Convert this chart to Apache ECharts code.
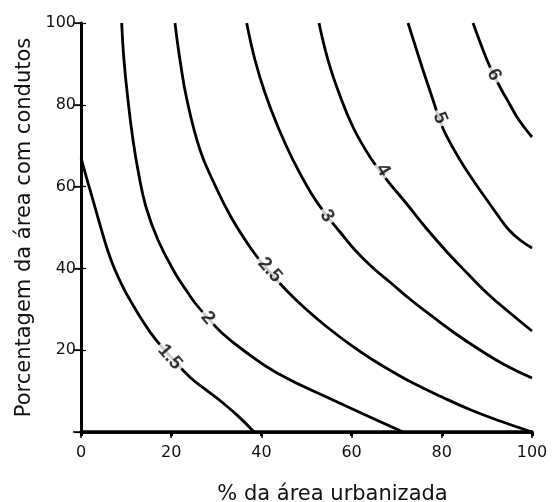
<!DOCTYPE html>
<html>
<head>
<meta charset="utf-8">
<script src="https://cdn.jsdelivr.net/npm/echarts@6/dist/echarts.min.js"></script>
<style>html,body{margin:0;padding:0;background:#fff}#c{width:556px;height:502px}</style>
</head>
<body>
<div id="c"></div>
<script>
// ---- data ----
const xName = '% da área urbanizada';
const yName = 'Porcentagem da área com condutos';
const xMin = 0, xMax = 100, xStep = 20;
const yMin = 0, yMax = 100, yStep = 20;

const contourLevels = ['1.5', '2', '2.5', '3', '4', '5', '6'];
const curve15 = [[0,67.0],[1.55,60.9],[2.66,56.7],[4.1,51.1],[5.88,44.5],[7.54,39.6],[9.65,34.7],[10.86,32.3],[13.53,27.4],[16.63,22.5],[19.96,18.3],[24.17,13.4],[27.72,10.3],[31.49,7.1],[35.03,3.7],[38.36,0]];
const curve20 = [[9.02,100],[9.53,90.95],[10.42,81.17],[11.53,71.39],[12.75,63.33],[14.41,55.01],[17.07,46.94],[20.84,38.88],[23.73,33.99],[25.28,31.54],[28.16,27.87],[31.26,24.21],[35.92,20.05],[43.46,14.43],[55.88,7.82],[71.40,0]];
const curve25 = [[20.84,100],[21.95,90.95],[23.50,81.17],[26.39,68.95],[29.49,60.88],[33.26,52.57],[37.92,44.50],[41.46,39.61],[45.90,34.23],[50.11,29.83],[54.55,25.67],[60.09,21.03],[64.75,17.60],[69.18,14.67],[73.61,11.98],[80.04,8.56],[86.47,5.38],[92.90,2.69],[100,0]];
const curve30 = [[36.74,100],[38.58,90.95],[40.80,82.89],[43.68,74.57],[47.01,66.50],[51.00,58.44],[54.55,52.81],[57.43,48.90],[60.75,44.50],[64.52,40.34],[68.74,36.43],[73.17,32.27],[78.05,28.12],[83.15,23.96],[88.47,20.05],[94.01,16.38],[100,13.20]];
const curve40 = [[52.77,100],[54.77,90.95],[57.2,82.89],[60.3,74.57],[64.08,67.24],[67.85,61.61],[72.06,55.99],[76.50,49.88],[81.15,44.01],[85.81,38.63],[90.47,33.50],[95.14,29.10],[100,24.69]];
const curve50 = [[72.51,100],[74.06,94.62],[75.61,89.24],[76.94,84.84],[78.27,80.44],[79.38,76.77],[80.93,72.62],[84.04,66.50],[87.36,60.88],[90.02,56.72],[92.68,52.57],[94.90,49.39],[97.34,46.94],[100,44.99]];
const curve60 = [[86.92,100],[88.47,95.35],[90.02,90.95],[91.57,87.29],[93.13,83.86],[94.90,80.44],[96.67,77.02],[98.23,74.57],[100,72.13]];
const curves = [curve15, curve20, curve25, curve30, curve40, curve50, curve60];

// where each level label sits on its curve (data units)
const labelX = [19.73, 28.16, 41.9, 54.55, 66.96, 79.6, 91.57];
const labelY = [18.34, 27.87, 39.6, 52.8, 64.06, 76.8, 87.3];

// ---- styles ----
const labelRotate = [-49, -50, -48, -56, -58, -68, -63];
const FONT = 'DejaVu Sans';

const chart = echarts.init(document.getElementById('c'), null, {renderer: 'canvas'});

const lineSeries = curves.map((d, i) => ({
  name: contourLevels[i],
  type: 'line',
  data: d,
  symbol: 'none',
  smooth: 0.45,
  silent: true,
  lineStyle: {color: '#000', width: 2.8},
  z: 2
}));

const labelSeries = {
  type: 'scatter',
  symbolSize: 0,
  silent: true,
  z: 5,
  data: contourLevels.map((t, i) => ({
    value: [labelX[i], labelY[i]],
    label: {rotate: labelRotate[i]}
  })),
  label: {
    show: true,
    position: 'inside',
    formatter: (p) => contourLevels[p.dataIndex],
    fontFamily: 'Liberation Sans',
    fontWeight: 'bold',
    fontSize: 19,
    color: '#000',
    backgroundColor: '#fff',
    padding: [0, 3]
  }
};

chart.setOption({
  backgroundColor: '#fff',
  animation: false,
  grid: {left: 81, top: 23, right: 24, bottom: 70, containLabel: false, outerBoundsMode: 'none'},
  xAxis: [{
    type: 'value', position: 'bottom', min: xMin, max: xMax, interval: xStep,
    name: xName, nameLocation: 'middle', nameGap: 52,
    nameTextStyle: {fontFamily: FONT, fontSize: 21, color: '#111', padding: [0, 0, 0, 52]},
    axisLine: {show: true, lineStyle: {color: '#000', width: 3.5}},
    axisTick: {show: true, inside: false, length: 4, lineStyle: {color: '#000', width: 3}},
    axisLabel: {fontFamily: FONT, fontSize: 16, color: '#111', margin: 13},
    splitLine: {show: false}
  }, {
    type: 'value', position: 'top', min: xMin, max: xMax, interval: xStep,
    axisLine: {show: true, lineStyle: {color: '#000', width: 2.5}},
    axisTick: {show: true, inside: true, length: 6, lineStyle: {color: '#000', width: 1.5}},
    axisLabel: {show: false},
    splitLine: {show: false}
  }],
  yAxis: [{
    type: 'value', position: 'left', min: yMin, max: yMax, interval: yStep,
    name: yName, nameLocation: 'middle', nameGap: 31,
    nameTextStyle: {fontFamily: FONT, fontSize: 21, color: '#111'},
    axisLine: {show: true, lineStyle: {color: '#000', width: 2}},
    axisTick: {show: true, inside: false, length: 6, lineStyle: {color: '#000', width: 1.2}},
    axisLabel: {fontFamily: FONT, fontSize: 16, color: '#111', margin: 5, verticalAlign: 'middle', padding: [0, 0, 10, 0],
      formatter: (v) => v === 0 ? '' : String(v)},
    splitLine: {show: false}
  }, {
    type: 'value', position: 'right', min: yMin, max: yMax, interval: yStep,
    axisLine: {show: true, lineStyle: {color: '#000', width: 3}},
    axisTick: {show: true, inside: true, length: 8, lineStyle: {color: '#000', width: 1.5}},
    axisLabel: {show: false},
    splitLine: {show: false}
  }, {
    type: 'value', position: 'left', offset: 0, min: yMin, max: yMax, interval: yStep,
    axisLine: {show: false},
    axisTick: {show: true, inside: true, length: 5, lineStyle: {color: '#000', width: 1.2}},
    axisLabel: {show: false},
    splitLine: {show: false}
  }],
  series: [...lineSeries, labelSeries]
});
</script>
</body>
</html>
